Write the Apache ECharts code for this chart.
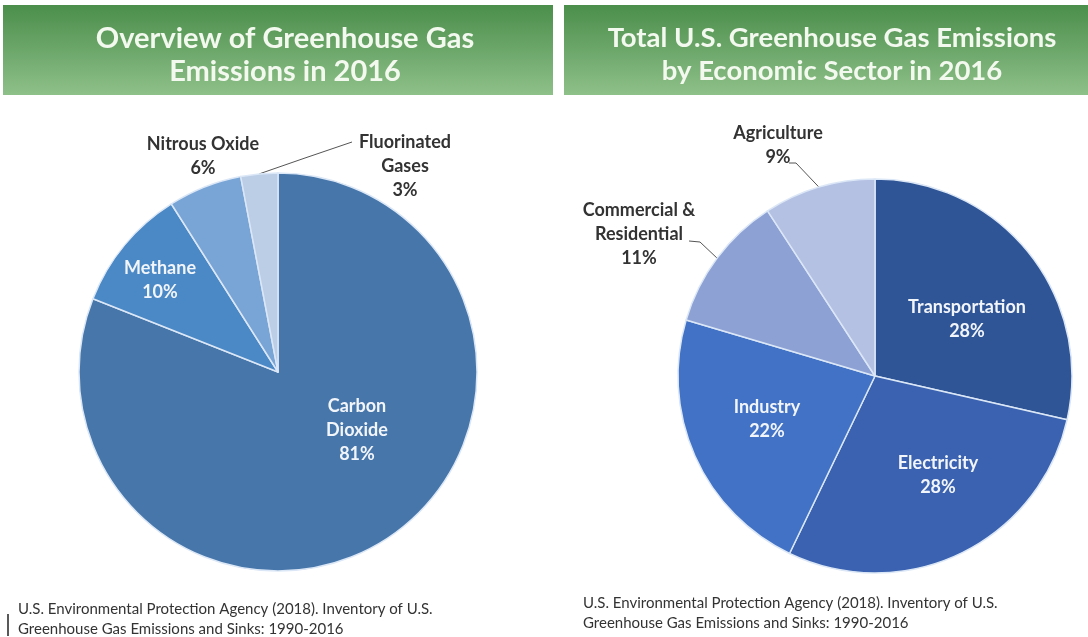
<!DOCTYPE html>
<html>
<head>
<meta charset="utf-8">
<script src="https://cdn.jsdelivr.net/npm/echarts@6/dist/echarts.min.js"></script>
<style>
html,body{margin:0;padding:0;background:#ffffff;}
#chart{width:1088px;height:637px;}
</style>
</head>
<body>
<div id="chart"></div>
<script>
// ---- Data ----
const gasNames = ['Carbon\nDioxide', 'Methane', 'Nitrous Oxide', 'Fluorinated\nGases'];
const gasValues = [81, 10, 6, 3];
const gasColors = ['#4676aa', '#4a88c6', '#79a5d6', '#bccde6'];

const sectorNames = ['Transportation', 'Electricity', 'Industry', 'Commercial &\nResidential', 'Agriculture'];
const sectorValues = [28, 28, 22, 11, 9];
const sectorColors = ['#2f5597', '#3a62b0', '#4272c5', '#8da1d5', '#b5c1e3'];

const leftTitle = 'Overview of Greenhouse Gas\nEmissions in 2016';
const rightTitle = 'Total U.S. Greenhouse Gas Emissions\nby Economic Sector in 2016';
const sourceText = 'U.S. Environmental Protection Agency (2018). Inventory of U.S.\nGreenhouse Gas Emissions and Sinks: 1990-2016';

// ---- Label placement (layout only) ----
const gasLabelPos = [[357, 430], [160, 280], [203, 156], [405, 166]];
const gasInside = [true, true, false, false];
const gasLine = [false, false, false, true];
const gasLineEnds = [null, null, null, [[305, 158], [352, 142]]];
const sectorLabelPos = [[967, 319], [938, 475], [767, 419], [639, 234], [778, 145]];
const sectorInside = [true, true, true, false, false];
const sectorLine = [false, false, false, true, true];
const sectorLineEnds = [null, null, null, [[700, 242], [689, 241]], [[796, 163], [789, 163]]];

const FONT = 'Lato, "Open Sans", sans-serif';

function buildData(names, values, colors, inside, line) {
  return names.map(function (n, i) {
    return {
      name: n,
      value: values[i],
      itemStyle: { color: colors[i] },
      label: {
        position: inside[i] ? 'inside' : 'outside',
        color: inside[i] ? '#f2f5fa' : '#333333'
      },
      labelLine: { show: line[i] }
    };
  });
}

function layoutFrom(pos, ends) {
  return function (params) {
    const p = pos[params.dataIndex];
    const out = { x: p[0], y: p[1], align: 'center', verticalAlign: 'middle' };
    const e = ends[params.dataIndex];
    if (e && params.labelLinePoints) {
      out.labelLinePoints = [params.labelLinePoints[0], e[0], e[1]];
    }
    return out;
  };
}

const commonPie = {
  type: 'pie',
  startAngle: 90,
  clockwise: true,
  avoidLabelOverlap: false,
  silent: true,
  itemStyle: { borderColor: '#dbe7f6', borderWidth: 1.5 },
  label: {
    show: true,
    formatter: '{b}\n{c}%',
    fontFamily: FONT,
    fontWeight: 'bold',
    fontSize: 18,
    lineHeight: 24,
    align: 'center'
  },
  labelLine: {
    show: false,
    lineStyle: { color: '#555555', width: 1 },
    length: 10,
    length2: 8
  }
};

const chart = echarts.init(document.getElementById('chart'));
chart.setOption({
  backgroundColor: '#ffffff',
  animation: false,
  title: [
    {
      text: leftTitle, left: 280, top: 17, textAlign: 'center',
      textStyle: { fontFamily: FONT, fontWeight: 'bold', fontSize: 29, lineHeight: 33, color: '#f3f9ef' }
    },
    {
      text: rightTitle, left: 827, top: 17, textAlign: 'center',
      textStyle: { fontFamily: FONT, fontWeight: 'bold', fontSize: 27.5, lineHeight: 33, color: '#f3f9ef' }
    }
  ],
  graphic: [
    {
      type: 'rect', z: -10,
      shape: { x: 3, y: 5, width: 550, height: 90 },
      style: { fill: new echarts.graphic.LinearGradient(0, 0, 0, 1, [
        { offset: 0, color: '#4b8e4b' }, { offset: 1, color: '#8ec089' }]) }
    },
    {
      type: 'rect', z: -10,
      shape: { x: 564, y: 5, width: 524, height: 90 },
      style: { fill: new echarts.graphic.LinearGradient(0, 0, 0, 1, [
        { offset: 0, color: '#4b8e4b' }, { offset: 1, color: '#8ec089' }]) }
    },
    {
      type: 'text', left: 18, top: 599,
      style: { text: sourceText, font: '15px ' + FONT, lineHeight: 20, fill: '#333333' }
    },
    {
      type: 'text', left: 583, top: 593,
      style: { text: sourceText, font: '15px ' + FONT, lineHeight: 20, fill: '#333333' }
    },
    {
      type: 'line',
      shape: { x1: 8, y1: 614, x2: 8, y2: 636 },
      style: { stroke: '#222222', lineWidth: 1.5 }
    }
  ],
  series: [
    Object.assign({}, commonPie, {
      name: 'Gases',
      center: [278, 372],
      radius: [0, 199],
      data: buildData(gasNames, gasValues, gasColors, gasInside, gasLine),
      labelLayout: layoutFrom(gasLabelPos, gasLineEnds)
    }),
    Object.assign({}, commonPie, {
      name: 'Sectors',
      center: [875, 376],
      radius: [0, 197],
      data: buildData(sectorNames, sectorValues, sectorColors, sectorInside, sectorLine),
      labelLayout: layoutFrom(sectorLabelPos, sectorLineEnds)
    })
  ]
});
</script>
</body>
</html>
